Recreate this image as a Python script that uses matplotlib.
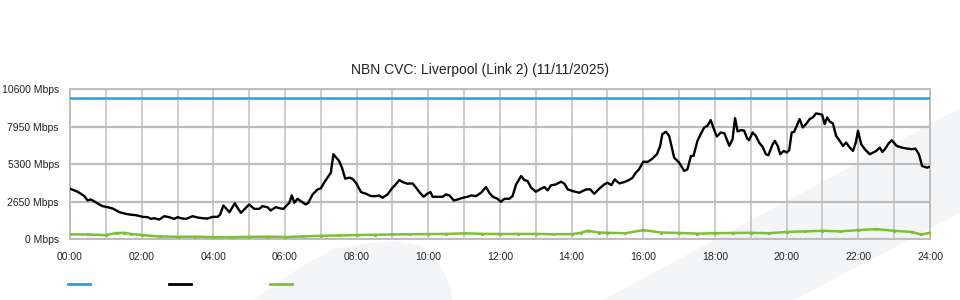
import matplotlib
matplotlib.use('Agg')
import matplotlib.pyplot as plt
from matplotlib.lines import Line2D
from matplotlib.patches import Polygon

plt.rcParams['font.family'] = ['Liberation Sans', 'DejaVu Sans']

title = 'NBN CVC: Liverpool (Link 2) (11/11/2025)'
y_ticks = [0, 2650, 5300, 7950, 10600]
x_ticks = list(range(0, 25, 2))
x_tick_labels = ['%02d:00' % h for h in x_ticks]

capacity = 10000

# black series, hour of day -> Mbps
traffic_hours = [
    0.00, 0.17, 0.26, 0.40, 0.49, 0.58, 0.68, 0.82, 0.91, 1.05, 1.19, 1.28, 1.38, 1.52, 1.66, 1.84,
    2.03, 2.17, 2.26, 2.35, 2.49, 2.63, 2.77, 2.91, 3.00, 3.14, 3.24, 3.42, 3.56, 3.70, 3.84, 3.98,
    4.12, 4.19, 4.28, 4.45, 4.60, 4.68, 4.77, 4.91, 5.00, 5.14, 5.28, 5.37, 5.51, 5.60, 5.74, 5.88,
    5.96, 6.07, 6.12, 6.19, 6.26, 6.35, 6.44, 6.58, 6.65, 6.77, 6.91, 7.00, 7.09, 7.28, 7.35, 7.51,
    7.59, 7.68, 7.79, 7.88, 7.98, 8.12, 8.26, 8.40, 8.53, 8.63, 8.72, 8.86, 9.00, 9.09, 9.19, 9.28,
    9.42, 9.56, 9.66, 9.75, 9.87, 9.98, 10.06, 10.12, 10.26, 10.40, 10.49, 10.59, 10.71, 10.82,
    10.96, 11.10, 11.19, 11.33, 11.47, 11.61, 11.70, 11.80, 11.93, 12.03, 12.12, 12.26, 12.35,
    12.45, 12.59, 12.68, 12.77, 12.87, 13.00, 13.14, 13.24, 13.33, 13.42, 13.56, 13.70, 13.80,
    13.89, 14.03, 14.21, 14.40, 14.52, 14.63, 14.77, 14.91, 15.00, 15.11, 15.20, 15.33, 15.47,
    15.60, 15.70, 15.79, 15.88, 16.00, 16.12, 16.23, 16.38, 16.47, 16.53, 16.63, 16.72, 16.86,
    17.00, 17.14, 17.23, 17.33, 17.40, 17.51, 17.60, 17.70, 17.79, 17.88, 17.98, 18.05, 18.16,
    18.26, 18.40, 18.49, 18.56, 18.63, 18.72, 18.81, 18.90, 18.95, 19.05, 19.14, 19.23, 19.33,
    19.42, 19.49, 19.61, 19.67, 19.75, 19.82, 19.92, 20.00, 20.07, 20.14, 20.21, 20.36, 20.45,
    20.54, 20.64, 20.73, 20.82, 20.92, 20.99, 21.06, 21.13, 21.20, 21.29, 21.38, 21.48, 21.57,
    21.66, 21.76, 21.85, 21.93, 21.99, 22.08, 22.18, 22.32, 22.41, 22.50, 22.60, 22.67, 22.74,
    22.83, 22.93, 23.07, 23.21, 23.36, 23.50, 23.59, 23.69, 23.78, 23.92, 24.00,
]
traffic_mbps = [
    3573, 3407, 3289, 3052, 2745, 2816, 2674, 2461, 2342, 2271, 2177, 2058, 1917, 1822, 1751, 1704,
    1586, 1562, 1443, 1491, 1396, 1633, 1562, 1443, 1562, 1467, 1443, 1633, 1538, 1491, 1467, 1586,
    1586, 1751, 2390, 1917, 2550, 2200, 1870, 2224, 2461, 2153, 2153, 2342, 2271, 2035, 2271, 2177,
    2153, 2461, 2579, 3100, 2579, 2863, 2697, 2461, 2579, 3171, 3525, 3596, 3999, 4708, 6010, 5537,
    5063, 4283, 4354, 4283, 3999, 3336, 3218, 3052, 3052, 3100, 2934, 3171, 3644, 3880, 4188, 4046,
    3928, 3951, 3644, 3336, 3005, 3242, 3336, 3005, 3005, 3005, 3171, 3100, 2745, 2816,
    2934, 3005, 3100, 3052, 3289, 3691, 3289, 3005, 2863, 2650, 2863, 2863, 3052,
    3880, 4472, 4188, 4117, 3644, 3360, 3573, 3691, 3454, 3809, 3880, 4069, 3928,
    3525, 3407, 3289, 3526, 3526, 3218, 3573, 3880, 3999, 3833, 4235, 3951, 4046,
    4188, 4354, 4709, 4945, 5489, 5466, 5655, 6010, 6601, 7429, 7595, 7311, 5773,
    5418, 4827, 4945, 5892, 5892, 6956, 7429, 7903, 8021, 8423, 7713, 7264, 7548,
    7500, 6601, 7075, 8565, 7619, 7713, 7690, 7122, 7003, 7548, 7311, 6838, 6530,
    6010, 5939, 6720, 6956, 6601, 6010, 6246, 6128, 6294, 7548, 7595, 8494, 7903,
    8139, 8494, 8612, 8896, 8849, 8802, 8139, 8612, 8328, 8186, 7311, 6956, 6601,
    6838, 6483, 6246, 6838, 7666, 6720, 6365, 6010, 6128, 6246, 6483, 6175, 6365,
    6720, 7003, 6601, 6483, 6412, 6365, 6412, 6010, 5182, 5063, 5134,
]

# green series
upload_hours = [
    0.0, 0.5, 1.0, 1.3, 1.5, 1.7, 2.0, 2.5, 3.0, 3.5, 4.0, 4.5, 5.0, 5.5, 6.0, 6.5, 7.0, 7.5,
    8.0, 8.5, 9.0, 9.5, 10.0, 10.5, 11.0, 11.5, 12.0, 12.5, 13.0, 13.5, 14.0, 14.25, 14.45,
    14.75, 15.0, 15.5, 16.0, 16.5, 17.0, 17.5, 18.0, 18.5, 19.0, 19.5, 20.0, 20.5, 21.0, 21.5,
    22.0, 22.5, 23.0, 23.5, 23.75, 24.0,
]
upload_mbps = [
    350, 340, 300, 440, 460, 380, 300, 200, 180, 190, 150, 150, 170, 190, 160, 200, 250, 270,
    300, 320, 340, 360, 370, 380, 420, 390, 370, 380, 380, 360, 370, 450, 610,
    480, 460, 430, 650, 480, 450, 400, 430, 450, 460, 430, 520, 560, 600, 560,
    650, 720, 600, 520, 340, 460,
]

blue = '#1fa3e0'
green = '#7cc033'
grid_grey = '#c4c4c4'
mark_grey = '#f4f5f7'

fig = plt.figure(figsize=(9.6, 3.0), dpi=100)
fig.patch.set_facecolor('white')

# faint watermark shapes behind the chart
fig.patches.append(Polygon([(0.628, 0.0), (1.0, 0.64), (1.0, 0.29), (0.827, 0.0)],
                           closed=True, transform=fig.transFigure, facecolor=mark_grey,
                           edgecolor='none', zorder=0))
fig.patches.append(Polygon([(0.264, 0.0), (0.290, 0.06), (0.313, 0.11), (0.347, 0.17),
                            (0.385, 0.19), (0.418, 0.195), (0.440, 0.18), (0.458, 0.12),
                            (0.470, 0.04), (0.471, 0.0)],
                           closed=True, transform=fig.transFigure, facecolor=mark_grey,
                           edgecolor='none', zorder=0))

ax = fig.add_axes([70 / 960, 60.7 / 300, 860 / 960, 150 / 300])
ax.set_facecolor('none')
ax.set_zorder(2)

ax.plot([0, 24], [capacity, capacity], color=blue, lw=1.8, zorder=3)
ax.plot(traffic_hours, traffic_mbps, color='black', lw=1.7, zorder=4)
ax.plot(upload_hours, upload_mbps, color=green, lw=1.8, marker='s', markersize=1.2, zorder=3)

ax.set_xlim(0, 24)
ax.set_ylim(0, 10600)
ax.set_xticks(x_ticks)
ax.set_xticklabels(x_tick_labels)
ax.set_xticks(range(0, 25), minor=True)
ax.set_yticks(y_ticks)
ax.set_yticklabels(['%d Mbps' % v for v in y_ticks])
ax.tick_params(axis='both', which='both', length=0, labelsize=7.5, colors='#222222')
ax.tick_params(axis='x', pad=9)
ax.tick_params(axis='y', pad=8)

ax.grid(True, axis='x', which='both', color=grid_grey, lw=1.2)
ax.grid(True, axis='y', which='major', color='#bdbdbd', lw=1.6)
ax.set_axisbelow(True)
for s in ax.spines.values():
    s.set_color('#bdbdbd')
    s.set_linewidth(1.4)

fig.text(0.5, 230 / 300, title, ha='center', va='center', fontsize=10, color='#222222')

handles = [Line2D([], [], color=blue, lw=2), Line2D([], [], color='black', lw=2),
           Line2D([], [], color=green, lw=2)]
fig.legend(handles, ['', '', ''], ncol=3, loc='center left',
           bbox_to_anchor=(68 / 960, 15 / 300), frameon=False, fontsize=7.5,
           handlelength=2.1, handletextpad=0, columnspacing=7.6, borderpad=0,
           borderaxespad=0)

fig.savefig('out.png', dpi=100)
